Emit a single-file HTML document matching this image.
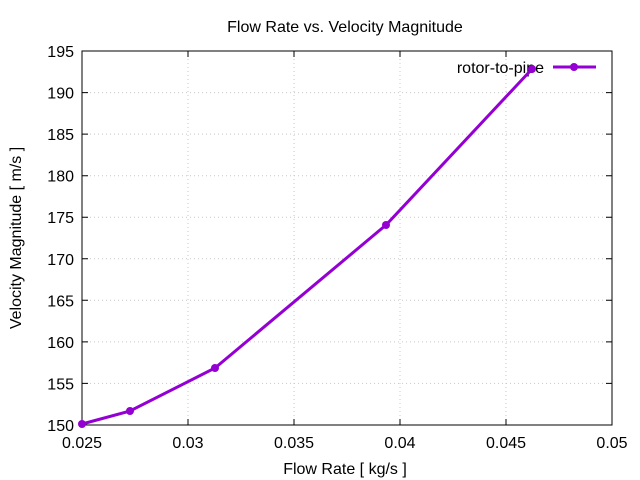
<!DOCTYPE html>
<html><head><meta charset="utf-8"><style>body{margin:0;background:#fff}svg{display:block}text{font-family:"Liberation Sans",sans-serif;font-size:16px;fill:#000}</style></head><body>
<svg width="640" height="480" viewBox="0 0 640 480">
<rect width="640" height="480" fill="#fff"/>
<g stroke="#c8c8c8" stroke-width="1" stroke-dasharray="1,3">
<line x1="188" y1="51" x2="188" y2="425"/><line x1="294" y1="51" x2="294" y2="425"/><line x1="400" y1="51" x2="400" y2="425"/><line x1="506" y1="51" x2="506" y2="425"/>
<line x1="82" y1="383.4" x2="612" y2="383.4"/><line x1="82" y1="341.9" x2="612" y2="341.9"/><line x1="82" y1="300.3" x2="612" y2="300.3"/><line x1="82" y1="258.8" x2="612" y2="258.8"/><line x1="82" y1="217.2" x2="612" y2="217.2"/><line x1="82" y1="175.7" x2="612" y2="175.7"/><line x1="82" y1="134.1" x2="612" y2="134.1"/><line x1="82" y1="92.6" x2="612" y2="92.6"/>
</g>
<rect x="82" y="51" width="530" height="374" fill="none" stroke="#000" stroke-width="1"/>
<g stroke="#000" stroke-width="1">
<path d="M188,425v-6M294,425v-6M400,425v-6M506,425v-6M188,51v6M294,51v6M400,51v6M506,51v6"/>
<path d="M82,383.4h6M82,341.9h6M82,300.3h6M82,258.8h6M82,217.2h6M82,175.7h6M82,134.1h6M82,92.6h6M612,383.4h-6M612,341.9h-6M612,300.3h-6M612,258.8h-6M612,217.2h-6M612,175.7h-6M612,134.1h-6M612,92.6h-6"/>
</g>
<g text-anchor="end">
<text x="74" y="431">150</text><text x="74" y="389.4">155</text><text x="74" y="347.9">160</text><text x="74" y="306.3">165</text><text x="74" y="264.8">170</text><text x="74" y="223.2">175</text><text x="74" y="181.7">180</text><text x="74" y="140.1">185</text><text x="74" y="98.6">190</text><text x="74" y="57">195</text>
</g>
<g text-anchor="middle">
<text x="82" y="448">0.025</text><text x="188" y="448">0.03</text><text x="294" y="448">0.035</text><text x="400" y="448">0.04</text><text x="506" y="448">0.045</text><text x="612" y="448">0.05</text>
<text x="345" y="474">Flow Rate [ kg/s ]</text>
<text x="345" y="32">Flow Rate vs. Velocity Magnitude</text>
<text transform="translate(21,238) rotate(-90)">Velocity Magnitude [ m/s ]</text>
</g>
<text x="544" y="73" text-anchor="end">rotor-to-pipe</text>
<g stroke="#9400d3" stroke-width="3" fill="#9400d3">
<line x1="553" y1="67" x2="596" y2="67"/>
<polyline fill="none" points="82,424 130,411 215,368 386,225 532,69"/>
<circle cx="574" cy="67" r="4" stroke="none"/>
<circle cx="82" cy="424" r="4" stroke="none"/><circle cx="130" cy="411" r="4" stroke="none"/><circle cx="215" cy="368" r="4" stroke="none"/><circle cx="386" cy="225" r="4" stroke="none"/><circle cx="532" cy="69" r="4" stroke="none"/>
</g>
</svg>
</body></html>
